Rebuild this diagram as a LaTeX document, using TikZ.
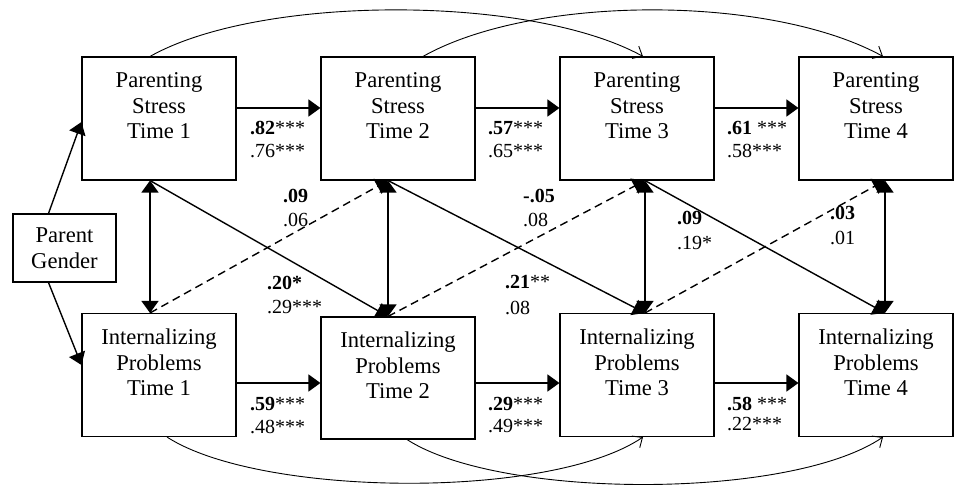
\documentclass[tikz,border=0pt]{standalone}
\usepackage{fontspec}
\setmainfont{Liberation Serif}
\usetikzlibrary{arrows.meta}
\begin{document}
\begin{tikzpicture}[x=1pt,y=-1pt,
  box/.style={draw, line width=1.1pt, minimum width=154pt, minimum height=123pt, inner sep=0pt, align=center, font=\fontsize{22.6}{25.5}\selectfont},
  pgbox/.style={draw, line width=1.1pt, minimum width=103pt, minimum height=68pt, inner sep=0pt, align=center, font=\fontsize{22.6}{25.5}\selectfont},
  lab/.style={anchor=base west, inner sep=0pt, font=\fontsize{20}{23}\selectfont},
  arr/.style={line width=1.4pt, -{Triangle[length=12pt,width=17pt]}},
  darr/.style={line width=1.4pt, {Triangle[length=12pt,width=17pt]}-{Triangle[length=12pt,width=17pt]}},
  dasharr/.style={arr, dash pattern=on 8pt off 5pt},
  curv/.style={line width=0.9pt, -{Straight Barb[length=8pt,width=14pt]}}
]
\useasboundingbox (0,0) rectangle (955,486);
% boxes
\node[box] (PS1) at (159,118.5) {Parenting\\Stress\\Time 1\\\mbox{}};
\node[box] (PS2) at (398,118.5) {Parenting\\Stress\\Time 2\\\mbox{}};
\node[box] (PS3) at (637,118.5) {Parenting\\Stress\\Time 3\\\mbox{}};
\node[box] (PS4) at (876,118.5) {Parenting\\Stress\\Time 4\\\mbox{}};
\node[box] (IP1) at (159,375) {Internalizing\\Problems\\Time 1\\\mbox{}};
\node[box, minimum height=122pt] (IP2) at (398,378) {Internalizing\\Problems\\Time 2\\\mbox{}};
\node[box] (IP3) at (637,375) {Internalizing\\Problems\\Time 3\\\mbox{}};
\node[box] (IP4) at (876,375) {Internalizing\\Problems\\Time 4\\\mbox{}};
\node[pgbox] (PG) at (64.5,248) {Parent\\Gender};
% helper coordinates
\coordinate (cA) at (150,0);
\coordinate (cB) at (388,0);
\coordinate (cC) at (645,0);
\coordinate (cD) at (885,0);
\coordinate (rP) at (0,108);
\coordinate (rI) at (0,383);
% horizontal paths
\draw[arr] (PS1.east |- rP) -- (PS2.west |- rP);
\draw[arr] (PS2.east |- rP) -- (PS3.west |- rP);
\draw[arr] (PS3.east |- rP) -- (PS4.west |- rP);
\draw[arr] (IP1.east |- rI) -- (IP2.west |- rI);
\draw[arr] (IP2.east |- rI) -- (IP3.west |- rI);
\draw[arr] (IP3.east |- rI) -- (IP4.west |- rI);
% parent gender
\draw[arr] ([xshift=-16pt]PG.north) -- ([yshift=-3.5pt]PS1.west);
\draw[arr] ([xshift=-16pt]PG.south) -- ([yshift=10pt]IP1.west);
% correlations
\draw[darr] (cA |- PS1.south) -- (cA |- IP1.north);
\draw[darr] (cB |- PS2.south) -- (cB |- IP2.north);
\draw[darr] (cC |- PS3.south) -- (cC |- IP3.north);
\draw[darr] (cD |- PS4.south) -- (cD |- IP4.north);
% cross-lagged
\draw[arr] (cA |- PS1.south) -- (cB |- IP2.north);
\draw[arr] (cB |- PS2.south) -- (cC |- IP3.north);
\draw[arr] (cC |- PS3.south) -- (cD |- IP4.north);
\draw[dasharr] (cA |- IP1.north) -- (cB |- PS2.south);
\draw[dasharr] (cB |- IP2.north) -- (cC |- PS3.south);
\draw[dasharr] (cC |- IP3.north) -- (cD |- PS4.south);
% lag-2 curves
\draw[curv] ([xshift=-9pt]PS1.north) .. controls +(110,-62) and +(-113,-62) .. ([xshift=6pt]PS3.north);
\draw[curv] ([xshift=25pt]PS2.north) .. controls +(110,-62) and +(-113,-62) .. ([xshift=7pt]PS4.north);
\draw[curv] ([xshift=8pt]IP1.south) .. controls +(93,60) and +(-93,63) .. ([xshift=6pt]IP3.south);
\draw[curv] ([xshift=9pt]IP2.south) .. controls +(93,60) and +(-93,63) .. ([xshift=7pt]IP4.south);
% labels
\node[lab] (a1) at (250,135) {\textbf{.82}***};
\node[lab] (a2) at (250,158) {.76***};
\node[lab] (b1) at (488,135) {\textbf{.57}***};
\node[lab] (b2) at (488,158) {.65***};
\node[lab] (c1) at (727,135) {\textbf{.61} ***};
\node[lab] (c2) at (727,158) {.58***};
\node[lab] (d1) at (250,410) {\textbf{.59}***};
\node[lab] (d2) at (250,433) {.48***};
\node[lab] (e1) at (488,410) {\textbf{.29}***};
\node[lab] (e2) at (488,432) {.49***};
\node[lab] (f1) at (727,410) {\textbf{.58} ***};
\node[lab] (f2) at (727,430) {.22***};
\node[lab] (g1) at (283,203) {\textbf{.09}};
\node[lab] (g2) at (283,227) {.06};
\node[lab] (h1) at (267,289) {\textbf{.20*}};
\node[lab] (h2) at (267,313) {.29***};
\node[lab] (i1) at (523,203) {\textbf{-.05}};
\node[lab] (i2) at (523,227) {.08};
\node[lab] (j1) at (505,288) {\textbf{.21}**};
\node[lab] (j2) at (505,314) {.08};
\node[lab] (k1) at (677,225) {\textbf{.09}};
\node[lab] (k2) at (677,250) {.19*};
\node[lab] (m1) at (830,220) {\textbf{.03}};
\node[lab] (m2) at (830,245) {.01};
\end{tikzpicture}
\end{document}
